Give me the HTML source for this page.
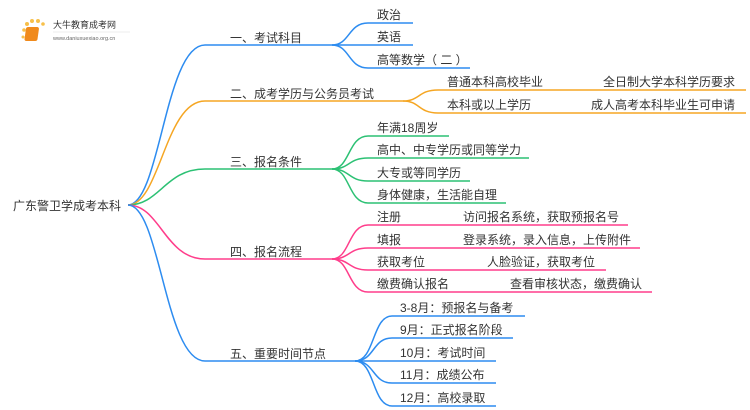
<!DOCTYPE html>
<html><head><meta charset="utf-8"><style>
html,body{margin:0;padding:0;background:#fff;width:750px;height:410px;overflow:hidden}
svg{display:block}
text{font-family:"Liberation Sans","Noto Sans CJK SC",sans-serif;font-size:12px;fill:#333}
</style></head><body>
<svg width="750" height="410" viewBox="0 0 750 410" xmlns="http://www.w3.org/2000/svg">
<g>
<circle cx="24" cy="30" r="1.8" fill="#f7c04a"/><circle cx="27" cy="24" r="2" fill="#f7c04a"/>
<circle cx="32" cy="21" r="2" fill="#f7c04a"/><circle cx="38" cy="21" r="2" fill="#f7c04a"/>
<circle cx="43" cy="24" r="1.8" fill="#f7c04a"/><circle cx="23" cy="37" r="1.5" fill="#f7c04a"/>
<rect x="30" y="27" width="13" height="14" rx="2" fill="#f08a1c" transform="skewX(-8)"/>
<text x="53" y="28" style="font-size:9px;fill:#333">大牛教育成考网</text>
<line x1="53" y1="32" x2="130" y2="32" stroke="#ddd" stroke-width="0.6"/>
<text x="53" y="40" style="font-size:5.5px;fill:#666">www.daniuxuexiao.org.cn</text>
</g>
<text x="13" y="210">广东警卫学成考本科</text>
<g fill="none" stroke-width="1.5">
<path d="M128,205 C160,205 165,45 205,45 L332,45" stroke="#2d8cf0"/>
<path d="M128,205 C160,205 165,101 205,101 L403,101" stroke="#f5a623"/>
<path d="M128,205 C160,205 165,169 205,169 L332,169" stroke="#2cc174"/>
<path d="M128,205 C160,205 165,259 205,259 L332,259" stroke="#ff3d8b"/>
<path d="M128,205 C160,205 165,361 205,361 L355,361" stroke="#2d8cf0"/>
<g stroke="#2d8cf0">
<path d="M332,45 C350,45 348,23 368,23 L413,23"/>
<path d="M332,45 L413,45"/>
<path d="M332,45 C350,45 348,68 368,68 L470,68"/>
</g>
<g stroke="#f5a623">
<path d="M403,101 C420,101 418,90 438,90 L746,90"/>
<path d="M403,101 C420,101 418,113 438,113 L746,113"/>
</g>
<g stroke="#2cc174">
<path d="M332,169 C350,169 348,136 368,136 L449,136"/>
<path d="M332,169 C350,169 348,158 368,158 L529,158"/>
<path d="M332,169 C350,169 348,181 368,181 L470,181"/>
<path d="M332,169 C350,169 348,203 368,203 L506,203"/>
</g>
<g stroke="#ff3d8b">
<path d="M332,259 C350,259 348,225 368,225 L628,225"/>
<path d="M332,259 C350,259 348,248 368,248 L640,248"/>
<path d="M332,259 C350,259 348,270 368,270 L606,270"/>
<path d="M332,259 C350,259 348,292 368,292 L652,292"/>
</g>
<g stroke="#2d8cf0">
<path d="M355,361 C375,361 372,316 392,316 L525,316"/>
<path d="M355,361 C375,361 372,338 392,338 L513,338"/>
<path d="M355,361 L496,361"/>
<path d="M355,361 C375,361 372,383 392,383 L496,383"/>
<path d="M355,361 C375,361 372,406 392,406 L496,406"/>
</g>
</g>
<text x="230" y="42">一、考试科目</text>
<text x="230" y="98">二、成考学历与公务员考试</text>
<text x="230" y="166">三、报名条件</text>
<text x="230" y="256">四、报名流程</text>
<text x="230" y="358">五、重要时间节点</text>

<text x="377" y="19">政治</text>
<text x="377" y="41">英语</text>
<text x="377" y="64">高等数学（ 二 ）</text>

<text x="447" y="86">普通本科高校毕业</text>
<text x="735" y="86" text-anchor="end">全日制大学本科学历要求</text>
<text x="447" y="109">本科或以上学历</text>
<text x="735" y="109" text-anchor="end">成人高考本科毕业生可申请</text>

<text x="377" y="132">年满18周岁</text>
<text x="377" y="154">高中、中专学历或同等学力</text>
<text x="377" y="177">大专或等同学历</text>
<text x="377" y="199">身体健康，生活能自理</text>

<text x="377" y="221">注册</text><text x="463" y="221">访问报名系统，获取预报名号</text>
<text x="377" y="244">填报</text><text x="463" y="244">登录系统，录入信息，上传附件</text>
<text x="377" y="266">获取考位</text><text x="487" y="266">人脸验证，获取考位</text>
<text x="377" y="288">缴费确认报名</text><text x="510" y="288">查看审核状态，缴费确认</text>

<text x="400" y="312">3-8月：预报名与备考</text>
<text x="400" y="334">9月：正式报名阶段</text>
<text x="400" y="357">10月：考试时间</text>
<text x="400" y="379">11月：成绩公布</text>
<text x="400" y="402">12月：高校录取</text>
</svg>
</body></html>
